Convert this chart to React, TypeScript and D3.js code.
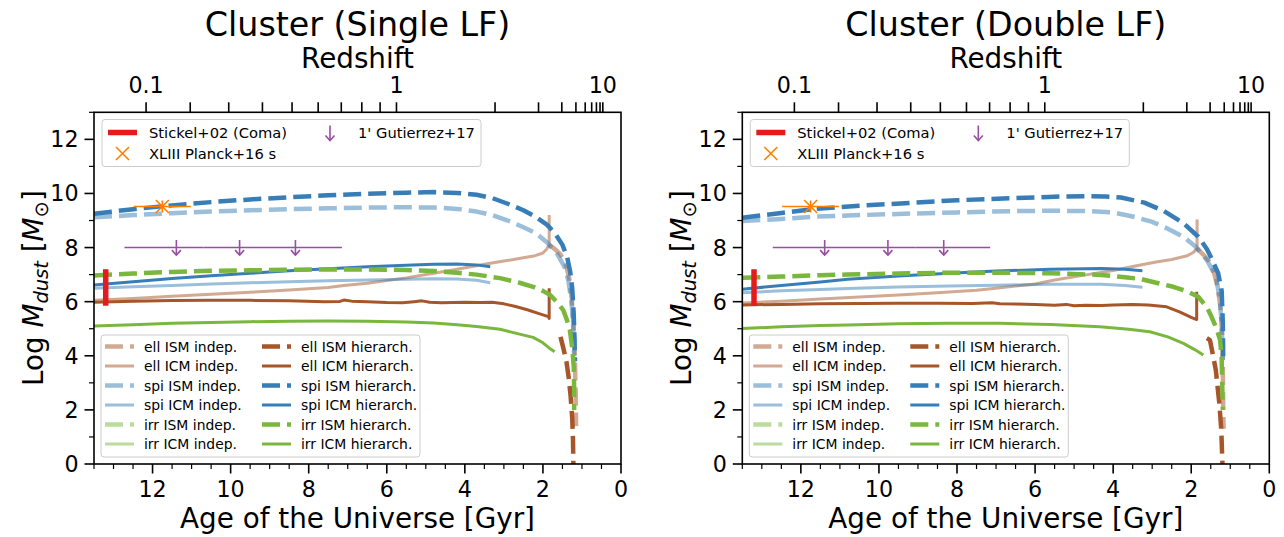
import React from "react";
import * as d3 from "d3";

type Pt = [number, number]; // [age of the Universe in Gyr, log Mdust]

// ---------- Cluster (Single LF) ----------
const ellIsmIndepSingle: Pt[] = [[1.84, 8.1], [1.7, 7.95], [1.55, 7.75], [1.42, 7.4], [1.33, 6.9], [1.26, 6.1], [1.21, 5.0], [1.18, 3.8], [1.16, 2.5], [1.15, 1.4]];
const ellIcmIndepSingle: Pt[] = [[13.5, 6.05], [12.5, 6.12], [11.5, 6.2], [10.5, 6.27], [9.5, 6.35], [8.5, 6.43], [7.5, 6.52], [7.1, 6.6], [6.5, 6.68], [5.5, 6.88], [4.8, 7.05], [4.2, 7.2], [3.5, 7.38], [3.0, 7.5], [2.5, 7.62], [2.2, 7.7], [2.0, 7.8], [1.9, 7.95], [1.84, 8.12], [1.84, 9.2]];
const spiIsmIndepSingle: Pt[] = [[13.5, 9.12], [12.5, 9.2], [11.5, 9.27], [10.5, 9.33], [9.5, 9.38], [8.5, 9.42], [7.5, 9.45], [6.5, 9.48], [5.5, 9.49], [4.8, 9.48], [4.2, 9.43], [3.7, 9.33], [3.3, 9.2], [2.9, 9.0], [2.5, 8.75], [2.2, 8.55], [1.9, 8.2], [1.65, 7.8], [1.45, 7.3], [1.35, 6.8], [1.27, 6.0], [1.23, 5.3], [1.2, 4.0]];
const spiIcmIndepSingle: Pt[] = [[13.5, 6.5], [12.5, 6.55], [11.5, 6.6], [10.5, 6.65], [9.5, 6.7], [8.5, 6.74], [7.5, 6.77], [6.5, 6.8], [5.5, 6.83], [4.8, 6.85], [4.2, 6.84], [3.7, 6.79], [3.35, 6.7]];
const irrIsmIndepSingle: Pt[] = [];
const irrIcmIndepSingle: Pt[] = [];
const ellIsmHierSingle: Pt[] = [[1.55, 4.7], [1.48, 4.3], [1.4, 3.8], [1.34, 3.2], [1.29, 2.5], [1.25, 1.7], [1.23, 0.9], [1.22, 0], [1.22, -0.5]];
const ellIcmHierSingle: Pt[] = [[13.5, 5.98], [12.5, 6.02], [11.5, 6.04], [10.5, 6.05], [9.5, 6.05], [8.5, 6.03], [7.6, 6.0], [7.2, 6.01], [7.1, 6.06], [6.9, 6.02], [6.5, 6.0], [6.0, 5.97], [5.6, 5.96], [5.3, 6.0], [5.1, 6.03], [4.9, 5.98], [4.6, 5.96], [4.3, 5.97], [4.0, 5.98], [3.6, 5.97], [3.3, 5.98], [3.0, 5.92], [2.7, 5.82], [2.4, 5.7], [2.1, 5.56], [1.86, 5.45], [1.84, 5.38], [1.84, 6.5]];
const spiIsmHierSingle: Pt[] = [[13.5, 9.25], [12.5, 9.42], [11.5, 9.56], [10.5, 9.68], [9.5, 9.78], [8.5, 9.86], [7.5, 9.93], [6.5, 9.99], [5.5, 10.03], [4.8, 10.05], [4.2, 10.02], [3.7, 9.95], [3.3, 9.83], [2.9, 9.62], [2.5, 9.38], [2.2, 9.15], [1.9, 8.85], [1.7, 8.55], [1.5, 8.1], [1.38, 7.65], [1.3, 7.1], [1.25, 6.5], [1.21, 5.5], [1.19, 4.6], [1.18, 3.8]];
const spiIcmHierSingle: Pt[] = [[13.5, 6.62], [12.5, 6.74], [11.5, 6.86], [10.5, 6.96], [9.5, 7.05], [8.5, 7.14], [7.5, 7.22], [6.5, 7.29], [5.5, 7.35], [4.8, 7.38], [4.2, 7.39], [3.7, 7.36], [3.35, 7.29]];
const irrIsmHierSingle: Pt[] = [[13.5, 6.97], [12.5, 7.04], [11.5, 7.1], [10.5, 7.14], [9.5, 7.16], [8.5, 7.18], [7.5, 7.19], [6.5, 7.19], [5.5, 7.17], [4.8, 7.13], [4.2, 7.07], [3.7, 7.0], [3.1, 6.87], [2.6, 6.7], [2.25, 6.55], [2.0, 6.4], [1.82, 6.25], [1.65, 6.0], [1.48, 5.69], [1.38, 5.3], [1.31, 4.95], [1.25, 4.3], [1.21, 3.6], [1.2, 2.8], [1.2, 2.0]];
const irrIcmHierSingle: Pt[] = [[13.5, 5.1], [12.5, 5.15], [11.5, 5.2], [10.5, 5.23], [9.5, 5.26], [8.5, 5.28], [7.5, 5.29], [6.5, 5.28], [5.5, 5.25], [4.8, 5.21], [4.2, 5.15], [3.7, 5.08], [3.1, 4.98], [2.6, 4.8], [2.25, 4.68], [2.0, 4.48], [1.85, 4.3], [1.7, 4.15]];

// ---------- Cluster (Double LF) ----------
const ellIsmIndepDouble: Pt[] = [[1.85, 7.97], [1.7, 7.75], [1.55, 7.5], [1.42, 7.1], [1.32, 6.5], [1.25, 5.8], [1.21, 4.8], [1.19, 3.5], [1.18, 2.0], [1.17, 1.3]];
const ellIcmIndepDouble: Pt[] = [[13.5, 5.95], [12.5, 6.02], [11.5, 6.1], [10.5, 6.17], [9.5, 6.25], [8.5, 6.33], [7.5, 6.42], [7.07, 6.49], [6.0, 6.65], [5.5, 6.8], [4.7, 6.99], [4.0, 7.15], [3.4, 7.33], [2.9, 7.47], [2.5, 7.56], [2.1, 7.7], [1.95, 7.82], [1.85, 7.97], [1.85, 9.04]];
const spiIsmIndepDouble: Pt[] = [[13.5, 8.98], [12.5, 9.06], [11.7, 9.14], [10.5, 9.2], [9.1, 9.26], [8.0, 9.3], [6.5, 9.35], [5.5, 9.36], [4.7, 9.35], [4.0, 9.3], [3.5, 9.15], [3.0, 8.95], [2.6, 8.7], [2.2, 8.4], [1.9, 8.05], [1.6, 7.54], [1.45, 7.15], [1.35, 6.8], [1.27, 6.1], [1.22, 5.2], [1.19, 3.85]];
const spiIcmIndepDouble: Pt[] = [[13.5, 6.33], [12.5, 6.4], [11.5, 6.45], [10.8, 6.49], [9.5, 6.54], [8.2, 6.58], [7.0, 6.61], [5.6, 6.64], [4.3, 6.64], [3.7, 6.6], [3.25, 6.53]];
const irrIsmIndepDouble: Pt[] = [];
const irrIcmIndepDouble: Pt[] = [];
const ellIsmHierDouble: Pt[] = [[1.6, 4.65], [1.52, 4.58], [1.44, 4.0], [1.37, 3.47], [1.28, 2.24], [1.23, 1.26], [1.2, 0], [1.2, -0.5]];
const ellIcmHierDouble: Pt[] = [[13.5, 5.88], [12.5, 5.9], [11.5, 5.92], [10.5, 5.93], [9.5, 5.94], [8.5, 5.94], [7.6, 5.93], [7.1, 5.96], [6.9, 5.92], [6.5, 5.91], [6.0, 5.9], [5.5, 5.87], [5.2, 5.9], [5.0, 5.85], [4.7, 5.87], [4.3, 5.86], [4.0, 5.88], [3.5, 5.9], [3.1, 5.88], [2.63, 5.81], [2.3, 5.62], [2.0, 5.42], [1.86, 5.34], [1.86, 6.37]];
const spiIsmHierDouble: Pt[] = [[13.5, 9.1], [12.5, 9.28], [11.7, 9.42], [10.5, 9.55], [9.1, 9.66], [8.0, 9.75], [6.5, 9.83], [5.5, 9.88], [4.7, 9.9], [4.2, 9.89], [3.8, 9.85], [3.2, 9.66], [2.7, 9.35], [2.2, 8.9], [1.82, 8.4], [1.6, 7.95], [1.48, 7.6], [1.31, 7.05], [1.22, 6.4], [1.19, 5.2], [1.18, 3.8]];
const spiIcmHierDouble: Pt[] = [[13.5, 6.46], [12.5, 6.6], [11.5, 6.73], [10.8, 6.83], [9.5, 6.95], [8.2, 7.05], [7.0, 7.13], [5.6, 7.2], [4.3, 7.23], [3.7, 7.2], [3.25, 7.14]];
const irrIsmHierDouble: Pt[] = [[13.5, 6.88], [12.5, 6.93], [11.5, 6.98], [10.8, 7.0], [9.5, 7.04], [8.2, 7.07], [7.0, 7.07], [5.6, 7.05], [4.3, 6.99], [3.7, 6.9], [3.3, 6.84], [2.9, 6.7], [2.46, 6.55], [2.1, 6.38], [1.82, 6.18], [1.6, 5.8], [1.48, 5.44], [1.35, 5.0], [1.26, 4.58], [1.22, 3.9], [1.21, 3.2], [1.19, 2.0]];
const irrIcmHierDouble: Pt[] = [[13.5, 5.01], [12.5, 5.07], [11.5, 5.12], [10.8, 5.14], [9.5, 5.18], [8.2, 5.2], [6.9, 5.2], [5.6, 5.16], [4.34, 5.07], [3.6, 4.98], [3.06, 4.89], [2.6, 4.7], [2.2, 4.46], [1.9, 4.22], [1.69, 4.03]];

// ---------- observations (same in both panels) ----------
const stickelAge = 13.2;
const stickelRange = [5.85, 7.2];
const planckPoint = [11.75, 9.52];
const planckAgeErr = [12.48, 11.02];
const planckMassErr = [9.3, 9.74];
const gutierrezAges = [11.39, 9.77, 8.34];
const gutierrezBins: [number, number][] = [[12.72, 10.69], [10.69, 9.07], [9.07, 7.15]];
const gutierrezLimit = 8.0;

// ---------- axes ----------
const ageTicks = [12, 10, 8, 6, 4, 2, 0];
const ageMinorTicks = [13.5, 13, 12.5, 11.5, 11, 10.5, 9.5, 9, 8.5, 7.5, 7, 6.5, 5.5, 5, 4.5, 3.5, 3, 2.5, 1.5, 1, 0.5];
const massTicks = [0, 2, 4, 6, 8, 10, 12];
const massMinorTicks = [1, 3, 5, 7, 9, 11, 13];
const zTicks = [0.1, 0.2, 0.3, 0.4, 0.5, 0.6, 0.7, 0.8, 0.9, 1, 2, 3, 4, 5, 6, 7, 8, 9, 10];
const zLabels = ["0.1", "1", "10"];
const seriesLabels = ["ell ISM indep.", "ell ICM indep.", "spi ISM indep.", "spi ICM indep.", "irr ISM indep.", "irr ICM indep.",
  "ell ISM hierarch.", "ell ICM hierarch.", "spi ISM hierarch.", "spi ICM hierarch.", "irr ISM hierarch.", "irr ICM hierarch."];

const H0 = 70;
const OmegaM = 0.3;
const ageMax = 13.5;

// flat LCDM age at redshift z, in Gyr
function ageAtZ(z: number) {
  const OL = 1 - OmegaM;
  const tH = 977.8 / H0;
  return ((2 * tH) / (3 * Math.sqrt(OL))) * Math.asinh(Math.sqrt(OL / OmegaM) * Math.pow(1 + z, -1.5));
}

const ellColor = "#a65628";
const spiColor = "#377eb8";
const irrColor = "#7ab73d";
const FONT = "DejaVu Sans, sans-serif";

interface Series { label: string; color: string; dashed: boolean; light: boolean; pts: Pt[]; }

function buildSeries(list: Pt[][]): Series[] {
  const colors = [ellColor, ellColor, spiColor, spiColor, irrColor, irrColor];
  return list.map((pts, i) => ({
    label: seriesLabels[i],
    color: colors[i % 6],
    dashed: i % 2 === 0,
    light: i < 6,
    pts
  }));
}

const singleSeries = buildSeries([ellIsmIndepSingle, ellIcmIndepSingle, spiIsmIndepSingle, spiIcmIndepSingle, irrIsmIndepSingle, irrIcmIndepSingle,
  ellIsmHierSingle, ellIcmHierSingle, spiIsmHierSingle, spiIcmHierSingle, irrIsmHierSingle, irrIcmHierSingle]);
const doubleSeries = buildSeries([ellIsmIndepDouble, ellIcmIndepDouble, spiIsmIndepDouble, spiIcmIndepDouble, irrIsmIndepDouble, irrIcmIndepDouble,
  ellIsmHierDouble, ellIcmHierDouble, spiIsmHierDouble, spiIcmHierDouble, irrIsmHierDouble, irrIcmHierDouble]);

const DASH = "18 7";
const lw = (s: Series) => (s.dashed ? 4.5 : 3);

const Arrow = ({ x, y1, y2 }: { x: number; y1: number; y2: number }) => (
  <g stroke="#984ea3" strokeWidth={1.6} fill="none">
    <line x1={x} x2={x} y1={y1} y2={y2} />
    <polyline points={`${x - 4.5},${y2 - 5} ${x},${y2} ${x + 4.5},${y2 - 5}`} />
  </g>
);

const Panel = ({ dx, title, series, id }: { dx: number; title: string; series: Series[]; id: string }) => {
  const left = 94 + dx, right = 621 + dx, top = 112.3, bottom = 464;
  const x = d3.scaleLinear().domain([ageMax, 0]).range([left, right]);
  const y = d3.scaleLinear().domain([0, 13]).range([bottom, top]);
  const line = d3.line<Pt>().x(d => x(d[0])).y(d => y(d[1]));
  const cx = (left + right) / 2;

  const [pAge, pMass] = planckPoint;
  const ms = 6.5;

  // legend geometry
  const lgX = left + 7, lgY = 335, rowH = 19.5;
  const topLgX = left + 8, topLgY = 119.5;

  return (
    <g fontFamily={FONT}>
      <defs>
        <clipPath id={id}>
          <rect x={left} y={top} width={right - left} height={bottom - top} />
        </clipPath>
      </defs>
      <text x={cx} y={36} textAnchor="middle" fontSize={33.3}>{title}</text>
      <text x={cx} y={68} textAnchor="middle" fontSize={27.8}>Redshift</text>

      <g clipPath={`url(#${id})`}>
        {series.filter(s => s.pts.length > 1).map(s => (
          <path key={s.label} d={line(s.pts) || ""} fill="none" stroke={s.color}
            strokeOpacity={s.light ? 0.5 : 1} strokeWidth={lw(s)}
            strokeDasharray={s.dashed ? DASH : undefined} strokeLinejoin="round" />
        ))}
        {/* Stickel+02 (Coma) */}
        <line x1={x(stickelAge)} x2={x(stickelAge)} y1={y(stickelRange[0])} y2={y(stickelRange[1])} stroke="#e41a1c" strokeWidth={5.5} />
        {/* Planck+16 */}
        <g stroke="#ff7f00" strokeWidth={1.6}>
          <line x1={x(planckAgeErr[0])} x2={x(planckAgeErr[1])} y1={y(pMass)} y2={y(pMass)} />
          <line x1={x(pAge)} x2={x(pAge)} y1={y(planckMassErr[0])} y2={y(planckMassErr[1])} />
          <line x1={x(pAge) - ms} x2={x(pAge) + ms} y1={y(pMass) - ms} y2={y(pMass) + ms} />
          <line x1={x(pAge) - ms} x2={x(pAge) + ms} y1={y(pMass) + ms} y2={y(pMass) - ms} />
        </g>
        {/* Gutierrez+17 upper limits */}
        {gutierrezAges.map((a, i) => (
          <g key={a}>
            <line x1={x(gutierrezBins[i][0])} x2={x(gutierrezBins[i][1])} y1={y(gutierrezLimit)} y2={y(gutierrezLimit)} stroke="#984ea3" strokeWidth={1.6} />
            <Arrow x={x(a)} y1={y(gutierrezLimit + 0.28)} y2={y(gutierrezLimit - 0.28)} />
          </g>
        ))}
      </g>

      {/* spines */}
      <rect x={left} y={top} width={right - left} height={bottom - top} fill="none" stroke="#000" strokeWidth={1.6} />

      {/* bottom axis */}
      {ageTicks.map(t => (
        <g key={t}>
          <line x1={x(t)} x2={x(t)} y1={bottom} y2={bottom + 9.5} stroke="#000" strokeWidth={1.6} />
          <text x={x(t)} y={bottom + 33} textAnchor="middle" fontSize={22.2}>{t}</text>
        </g>
      ))}
      {ageMinorTicks.map(t => (
        <line key={t} x1={x(t)} x2={x(t)} y1={bottom} y2={bottom + 5} stroke="#000" strokeWidth={1.2} />
      ))}
      <text x={cx} y={528} textAnchor="middle" fontSize={27.8}>Age of the Universe [Gyr]</text>

      {/* left axis */}
      {massTicks.map(t => (
        <g key={t}>
          <line x1={left - 9.5} x2={left} y1={y(t)} y2={y(t)} stroke="#000" strokeWidth={1.6} />
          <text x={left - 15.5} y={y(t) + 8} textAnchor="end" fontSize={22.2}>{t}</text>
        </g>
      ))}
      {massMinorTicks.map(t => (
        <line key={t} x1={left - 5} x2={left} y1={y(t)} y2={y(t)} stroke="#000" strokeWidth={1.2} />
      ))}
      <text transform={`translate(${left - 51},${(top + bottom) / 2}) rotate(-90)`} textAnchor="middle" fontSize={27.8}>
        Log <tspan fontStyle="italic">M</tspan>
        <tspan fontStyle="italic" fontSize={19.5} dy={5}>dust</tspan>
        <tspan dy={-5}> [</tspan>
        <tspan fontStyle="italic">M</tspan>
        <tspan fontSize={19.5} dy={5}>⊙</tspan>
        <tspan dy={-5}>]</tspan>
      </text>

      {/* top redshift axis */}
      {zTicks.map(z => (
        <line key={z} x1={x(ageAtZ(z))} x2={x(ageAtZ(z))} y1={top} y2={top - 10} stroke="#000" strokeWidth={1.6} />
      ))}
      {zLabels.map(l => (
        <text key={l} x={x(ageAtZ(+l))} y={93} textAnchor="middle" fontSize={22.2}>{l}</text>
      ))}

      {/* observations legend */}
      <g fontSize={14.7}>
        <rect x={topLgX} y={topLgY} width={379} height={47} rx={3} fill="#fff" fillOpacity={0.8} stroke="#cccccc" />
        <line x1={topLgX + 6} x2={topLgX + 35} y1={topLgY + 13} y2={topLgY + 13} stroke="#e41a1c" strokeWidth={5.5} />
        <text x={topLgX + 47} y={topLgY + 18}>Stickel+02 (Coma)</text>
        <g stroke="#ff7f00" strokeWidth={1.6}>
          <line x1={topLgX + 20.5 - ms} x2={topLgX + 20.5 + ms} y1={topLgY + 34 - ms} y2={topLgY + 34 + ms} />
          <line x1={topLgX + 20.5 - ms} x2={topLgX + 20.5 + ms} y1={topLgY + 34 + ms} y2={topLgY + 34 - ms} />
        </g>
        <text x={topLgX + 47} y={topLgY + 39}>XLIII Planck+16 s</text>
        <Arrow x={topLgX + 228} y1={topLgY + 6} y2={topLgY + 21} />
        <text x={topLgX + 256} y={topLgY + 18}>1' Gutierrez+17</text>
      </g>

      {/* models legend */}
      <g fontSize={13.9}>
        <rect x={lgX} y={lgY} width={319} height={122} rx={3} fill="#fff" fillOpacity={0.8} stroke="#cccccc" />
        {series.map((s, i) => {
          const col = Math.floor(i / 6), row = i % 6;
          const hx = lgX + 4 + col * 157;
          const hy = lgY + 11.5 + row * rowH;
          return (
            <g key={s.label}>
              <line x1={hx} x2={hx + 29} y1={hy} y2={hy} stroke={s.color} strokeOpacity={s.light ? 0.5 : 1}
                strokeWidth={lw(s)} strokeDasharray={s.dashed ? DASH : undefined} />
              <text x={hx + 39} y={hy + 5}>{s.label}</text>
            </g>
          );
        })}
      </g>
    </g>
  );
};

export default function App() {
  return (
    <svg width={1284} height={537} style={{ position: "absolute", left: 0, top: 0, background: "#fff" }}>
      <rect width={1284} height={537} fill="#fff" />
      <Panel dx={0} title="Cluster (Single LF)" series={singleSeries} id="clipSingle" />
      <Panel dx={648.3} title="Cluster (Double LF)" series={doubleSeries} id="clipDouble" />
    </svg>
  );
}
